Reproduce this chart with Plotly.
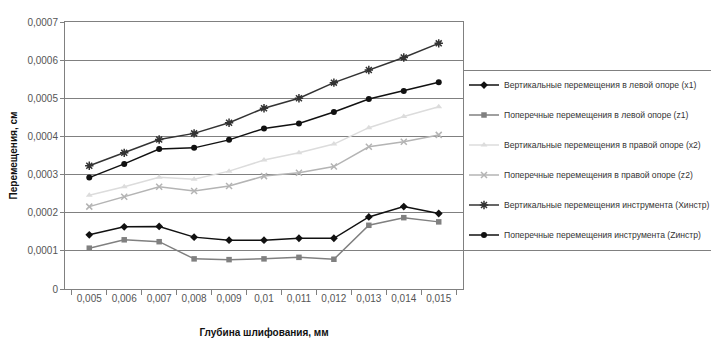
import plotly.graph_objects as go

categories = ["0,005", "0,006", "0,007", "0,008", "0,009", "0,01", "0,011", "0,012", "0,013", "0,014", "0,015"]

x1 = [0.000142, 0.000163, 0.000164, 0.000136, 0.000128, 0.000128, 0.000133, 0.000133, 0.000189, 0.000216, 0.000198]
z1 = [0.000107, 0.000129, 0.000124, 0.000079, 0.000077, 0.000079, 0.000083, 0.000078, 0.000167, 0.000187, 0.000176]
x2 = [0.000246, 0.000268, 0.000293, 0.000288, 0.000309, 0.000338, 0.000357, 0.000380, 0.000423, 0.000452, 0.000478]
z2 = [0.000216, 0.000242, 0.000268, 0.000257, 0.000270, 0.000296, 0.000305, 0.000321, 0.000373, 0.000386, 0.000404]
x_instr = [0.000323, 0.000357, 0.000392, 0.000408, 0.000436, 0.000474, 0.000500, 0.000541, 0.000574, 0.000607, 0.000644]
z_instr = [0.000292, 0.000328, 0.000367, 0.000370, 0.000391, 0.000421, 0.000434, 0.000464, 0.000498, 0.000519, 0.000542]

names = [
    "Вертикальные перемещения в левой опоре (x1)",
    "Поперечные перемещения в левой опоре (z1)",
    "Вертикальные перемещения в правой опоре (x2)",
    "Поперечные перемещения в правой опоре (z2)",
    "Вертикальные перемещения инструмента (Xинстр)",
    "Поперечные перемещения инструмента (Zинстр)",
]

y_tickvals = [0, 0.0001, 0.0002, 0.0003, 0.0004, 0.0005, 0.0006, 0.0007]
y_ticktext = ["0", "0,0001", "0,0002", "0,0003", "0,0004", "0,0005", "0,0006", "0,0007"]

styles = [
    dict(color="#111111", symbol="diamond", size=6, lw=1.5),
    dict(color="#808080", symbol="square", size=5.5, lw=1.5),
    dict(color="#dcdcdc", symbol="triangle-up", size=6, lw=1.5),
    dict(color="#b4b4b4", symbol="x-thin-open", size=6, lw=1.5),
    dict(color="#333333", symbol="asterisk-open", size=7, lw=1.5),
    dict(color="#111111", symbol="circle", size=6, lw=1.5),
]

series = [x1, z1, x2, z2, x_instr, z_instr]

fig = go.Figure()
for i, (vals, name, st) in enumerate(zip(series, names, styles)):
    marker = dict(symbol=st["symbol"], size=st["size"], color=st["color"])
    if "open" in st["symbol"]:
        marker["line"] = dict(color=st["color"], width=1.5)
    fig.add_trace(go.Scatter(
        x=categories, y=vals, name=name, mode="lines+markers",
        line=dict(color=st["color"], width=st["lw"]),
        marker=marker, legendgroup=f"g{i}",
    ))

fig.update_layout(
    width=711, height=341,
    margin=dict(l=57, r=256, t=14, b=60, autoexpand=False),
    paper_bgcolor="white", plot_bgcolor="white",
    font=dict(family="Liberation Sans, Arial, sans-serif", size=10, color="#222222"),
    showlegend=True,
    legend=dict(
        x=1.0, xanchor="left", y=0.822, yanchor="top",
        bordercolor="#808080", borderwidth=1, bgcolor="white",
        font=dict(size=8.6, color="#333333"),
        tracegroupgap=11, itemwidth=30,
    ),
    xaxis=dict(
        type="category", showgrid=False, showline=True, linecolor="#808080", linewidth=1,
        mirror=True, ticks="outside", tickson="boundaries", ticklen=5, tickcolor="#808080",
        tickangle=0, automargin=False,
        tickfont=dict(size=10, color="#555555"),
        title=dict(text="<b>Глубина шлифования, мм</b>", font=dict(size=10, color="#111111"), standoff=25),
    ),
    yaxis=dict(
        range=[0, 0.0007], tickvals=y_tickvals, ticktext=y_ticktext,
        showgrid=True, gridcolor="#808080", gridwidth=1,
        showline=True, linecolor="#808080", linewidth=1, mirror=True,
        ticks="outside", ticklen=4, tickcolor="#808080", automargin=False,
        tickfont=dict(size=10, color="#555555"),
        title=dict(text="<b>Перемещения, см</b>", font=dict(size=10, color="#111111"), standoff=8),
        zeroline=False,
    ),
)

fig.write_html("out.html")
